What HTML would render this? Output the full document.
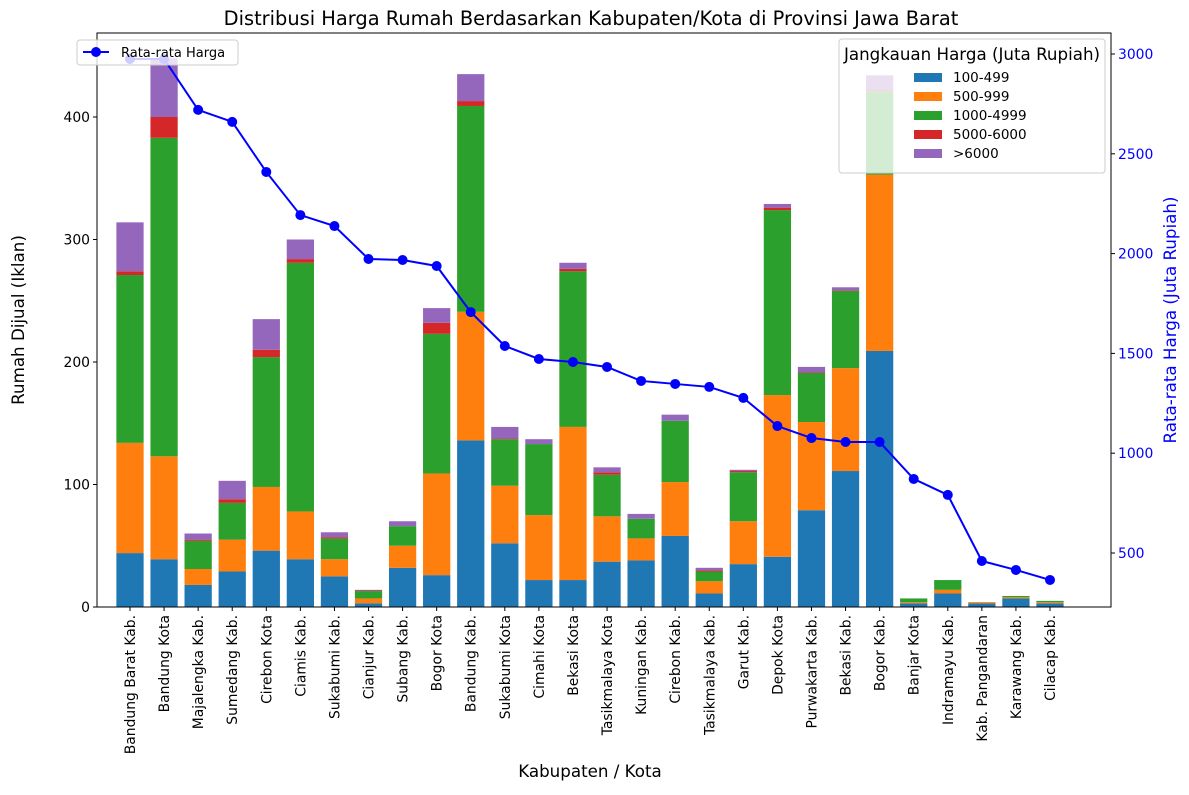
<!DOCTYPE html>
<html><head><meta charset="utf-8"><style>
body{margin:0;background:#fff;}
svg{font-family:"DejaVu Sans","Liberation Sans",sans-serif;}
</style></head><body>
<svg id="chart" width="1189" height="790"></svg>
<script>
const categories=["Bandung Barat Kab.","Bandung Kota","Majalengka Kab.","Sumedang Kab.","Cirebon Kota","Ciamis Kab.","Sukabumi Kab.","Cianjur Kab.","Subang Kab.","Bogor Kota","Bandung Kab.","Sukabumi Kota","Cimahi Kota","Bekasi Kota","Tasikmalaya Kota","Kuningan Kab.","Cirebon Kab.","Tasikmalaya Kab.","Garut Kab.","Depok Kota","Purwakarta Kab.","Bekasi Kab.","Bogor Kab.","Banjar Kota","Indramayu Kab.","Kab. Pangandaran","Karawang Kab.","Cilacap Kab."];
const s100=[44,39,18,29,46,39,25,3,32,26,136,52,22,22,37,38,58,11,35,41,79,111,209,3,11,3,7,3];
const s500=[90,84,13,26,52,39,14,4,18,83,105,47,53,125,37,18,44,10,35,132,72,84,144,1,3,1,1,1];
const s1000=[137,260,23,30,106,203,17,6,16,114,168,38,58,127,34,16,50,8,40,151,40,63,68,3,8,0,1,1];
const s5000=[3,17,1,3,6,3,1,0.5,0,9,4,0.5,0,2,2,0,0,1,1,2,0.5,0.5,1,0,0,0,0,0];
const s6000=[40,48,5,15,25,16,4,0.5,4,12,22,9.5,4,5,4,4,5,2,1,3,4.5,2.5,12,0,0,0,0,0];
const avgPrice=[2975,2975,2720,2660,2409,2193,2138,1973,1968,1938,1707,1537,1472,1457,1432,1362,1347,1332,1277,1136,1076,1056,1056,871,791,460,415,365];
const leftTicks=[0,100,200,300,400];
const rightTicks=[500,1000,1500,2000,2500,3000];
const seriesNames=["100-499","500-999","1000-4999","5000-6000",">6000"];
const colors=["#1f77b4","#ff7f0e","#2ca02c","#d62728","#9467bd"];

const svg=document.getElementById('chart');
const NS="http://www.w3.org/2000/svg";
function mk(t,a,p){const e=document.createElementNS(NS,t);for(const k in a)e.setAttribute(k,a[k]);(p||svg).appendChild(e);return e;}
const X0=97,X1=1111,Y0=33,Y1=607;
const n=categories.length;
function xcen(i){return 130+i*(1050-130)/(n-1);}
const bw=0.8*(1050-130)/(n-1);
function yL(v){return Y1-v*1.225;}
function yR(v){return 553-(v-500)*0.1996;}

mk('rect',{x:0,y:0,width:1189,height:790,fill:'#fff'});
const series=[s100,s500,s1000,s5000,s6000];
const bars=mk('g',{});


for(let i=0;i<n;i++){
  let cum=0;
  for(let s=0;s<5;s++){
    const v=series[s][i];
    if(v<=0){continue;}
    const r=mk('rect',{x:xcen(i)-bw/2,y:yL(cum+v),width:bw,height:v*1.225,fill:colors[s]},bars);
    
    
    cum+=v;
  }
}
let pts=avgPrice.map((v,i)=>xcen(i)+','+yR(v)).join(' ');
const line=mk('polyline',{points:pts,fill:'none',stroke:'#0000ff','stroke-width':2});


avgPrice.forEach((v,i)=>{const c=mk('circle',{cx:xcen(i),cy:yR(v),r:5,fill:'#0000ff'});

});
mk('rect',{x:X0,y:Y0,width:X1-X0,height:Y1-Y0,fill:'none',stroke:'#000','stroke-width':1});
leftTicks.forEach(v=>{const y=yL(v);mk('line',{x1:X0-4,x2:X0,y1:y,y2:y,stroke:'#000'});
const t=mk('text',{x:X0-7,y:y+5,'text-anchor':'end','font-size':13.9});t.textContent=v;
});
rightTicks.forEach(v=>{const y=yR(v);mk('line',{x1:X1,x2:X1+4,y1:y,y2:y,stroke:'#000'});
const t=mk('text',{x:X1+7,y:y+5,'font-size':13.9,fill:'#0000ff'});t.textContent=v;
});
categories.forEach((c,i)=>{const x=xcen(i);mk('line',{x1:x,x2:x,y1:Y1,y2:Y1+4,stroke:'#000'});
const t=mk('text',{x:x+5,y:Y1+8,'text-anchor':'end','font-size':13.9,transform:`rotate(-90 ${x+5} ${Y1+8})`});t.textContent=c;
});
let t=mk('text',{x:591,y:25,'text-anchor':'middle','font-size':19.4});t.textContent='Distribusi Harga Rumah Berdasarkan Kabupaten/Kota di Provinsi Jawa Barat';

t=mk('text',{x:590,y:777,'text-anchor':'middle','font-size':16.7});t.textContent='Kabupaten / Kota';

t=mk('text',{x:24,y:320,'text-anchor':'middle','font-size':16.7,transform:'rotate(-90 24 320)'});t.textContent='Rumah Dijual (Iklan)';

t=mk('text',{x:1176,y:320,'text-anchor':'middle','font-size':16.7,fill:'#0000ff',transform:'rotate(-90 1176 320)'});t.textContent='Rata-rata Harga (Juta Rupiah)';

const lg=mk('g',{});
mk('rect',{x:77,y:40,width:161,height:25,rx:3,fill:'#fff','fill-opacity':0.8,stroke:'#ccc'},lg);
mk('line',{x1:83,x2:109,y1:52,y2:52,stroke:'#0000ff','stroke-width':2},lg);
mk('circle',{cx:96,cy:52,r:5,fill:'#0000ff'},lg);
t=mk('text',{x:121,y:57,'font-size':13},lg);t.textContent='Rata-rata Harga';
const bl=mk('g',{});
mk('rect',{x:839,y:39,width:266,height:134,rx:3,fill:'#fff','fill-opacity':0.8,stroke:'#ccc'},bl);
t=mk('text',{x:972,y:60,'text-anchor':'middle','font-size':16.7},bl);t.textContent='Jangkauan Harga (Juta Rupiah)';
seriesNames.forEach((s,k)=>{const y=77+k*19;
mk('rect',{x:914,y:y-4,width:28,height:9,fill:colors[k]},bl);
const tt=mk('text',{x:953,y:y+5,'font-size':13.5},bl);tt.textContent=s;
});
</script>
</body></html>
